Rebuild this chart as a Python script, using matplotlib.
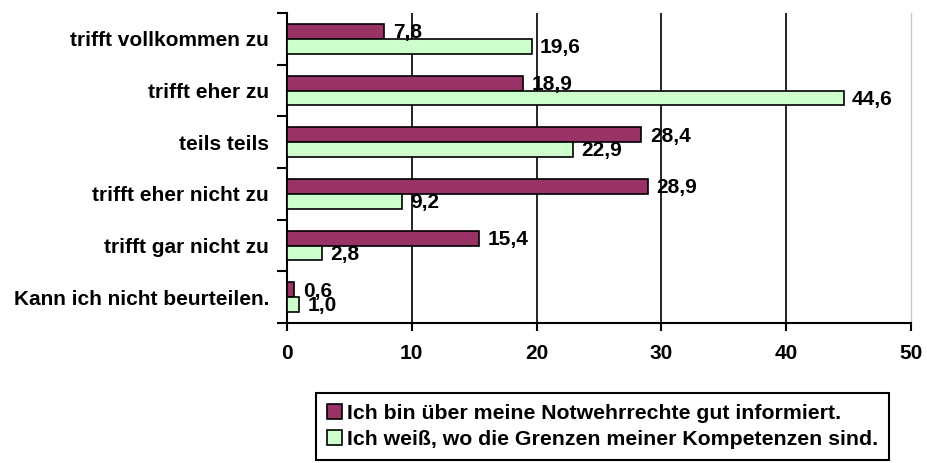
import matplotlib
matplotlib.use('Agg')
import matplotlib.pyplot as plt
import numpy as np

plt.rcParams['font.family'] = ['Liberation Sans', 'DejaVu Sans']
plt.rcParams['font.weight'] = 'bold'

categories = ['trifft vollkommen zu', 'trifft eher zu', 'teils teils',
              'trifft eher nicht zu', 'trifft gar nicht zu',
              'Kann ich nicht beurteilen.']
informed = [7.8, 18.9, 28.4, 28.9, 15.4, 0.6]
limits = [19.6, 44.6, 22.9, 9.2, 2.8, 1.0]
series_names = ['Ich bin über meine Notwehrrechte gut informiert.',
                'Ich weiß, wo die Grenzen meiner Kompetenzen sind.']
xticks = [0, 10, 20, 30, 40, 50]

FS = 15

fig = plt.figure(figsize=(9.27, 4.63), dpi=100)
ax = fig.add_axes([287 / 927, 1 - 323 / 463, 624 / 927, 310 / 463])

y = np.arange(len(categories))
h = 0.285
b1 = ax.barh(y - h / 2, informed, height=h, color='#993366',
             edgecolor='black', linewidth=1.2, label=series_names[0], zorder=3)
b2 = ax.barh(y + h / 2, limits, height=h, color='#CCFFCC',
             edgecolor='black', linewidth=1.2, label=series_names[1], zorder=3)

for bars, vals in ((b1, informed), (b2, limits)):
    for bar, v in zip(bars, vals):
        ax.annotate(f'{v:.1f}'.replace('.', ','),
                    (v, bar.get_y() + bar.get_height() / 2),
                    xytext=(6, -1), textcoords='offset points',
                    ha='left', va='center', fontsize=FS, fontweight='bold',
                    zorder=4)

ax.set_xlim(0, 50)
ax.set_ylim(len(categories) - 0.5, -0.5)

# gridlines
for t in xticks[1:-1]:
    ax.axvline(t, color='black', linewidth=1.2, zorder=1)

ax.set_xticks(xticks)
ax.set_xticklabels([str(t) for t in xticks], fontsize=FS, fontweight='bold')
ax.tick_params(axis='x', direction='out', length=6, width=1.5, pad=9)

ax.set_yticks(y)
ax.set_yticklabels(categories, fontsize=FS, fontweight='bold')
ax.tick_params(axis='y', which='major', length=0, pad=13)
ax.set_yticks(np.arange(-0.5, len(categories)), minor=True)
ax.tick_params(axis='y', which='minor', direction='out', length=7, width=1.5)

ax.spines['top'].set_visible(False)
ax.spines['right'].set_color('#c8c8c8')
ax.spines['right'].set_linewidth(1.0)
ax.spines['left'].set_linewidth(1.5)
ax.spines['bottom'].set_linewidth(1.5)

leg = fig.legend(handles=[b1, b2], loc='upper left',
                 bbox_to_anchor=(316 / 927, 1 - 393 / 463),
                 fancybox=False, edgecolor='black', framealpha=1,
                 prop={'size': 15.3, 'weight': 'bold'},
                 handlelength=0.7, handleheight=0.7, handletextpad=0.25,
                 borderpad=0.5, labelspacing=0.35, borderaxespad=0)
leg.get_frame().set_linewidth(1.5)

fig.savefig('out.png', dpi=100)
